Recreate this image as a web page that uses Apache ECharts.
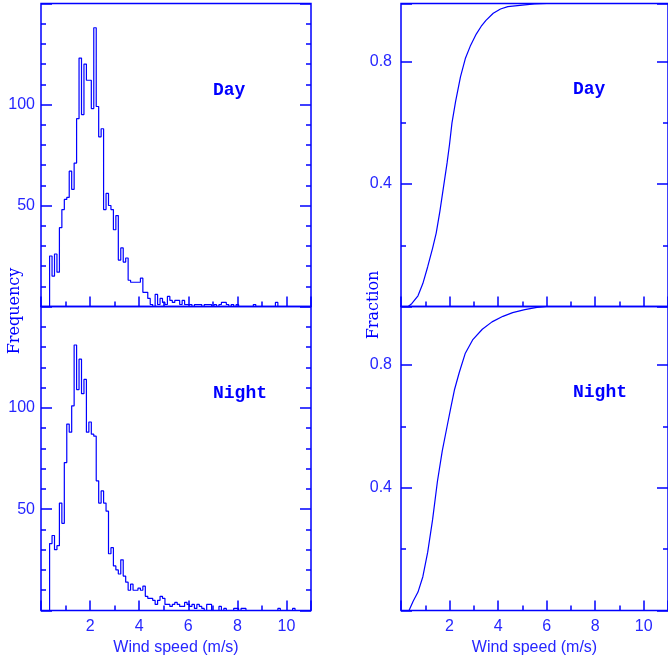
<!DOCTYPE html>
<html>
<head>
<meta charset="UTF-8">
<title>Wind speed distribution</title>
<script src="https://cdn.jsdelivr.net/npm/echarts@6/dist/echarts.min.js"></script>
<style>
  html, body { margin: 0; padding: 0; background: #ffffff; }
  #main { width: 668px; height: 663px; }
</style>
</head>
<body>
<div id="main"></div>
<script>
// histogram bins are 0.1 m/s wide, first one starts at 0.35 m/s
var binStart = 0.35;
var binWidth = 0.1;

var dayCounts = [25, 15, 26, 17, 39, 48, 53, 54, 67, 58, 71, 93, 123, 95, 120, 112, 112, 98, 138, 99,
  84, 88, 48, 56, 50, 48, 38, 45, 23, 29, 22, 24, 13, 12, 12, 12, 12, 14, 7, 7,
  4, 1, 0, 6, 1, 4, 2, 1, 5, 3, 2, 3, 3, 1, 3, 1, 1, 1, 0, 1,
  1, 1, 0, 1, 1, 1, 0, 1, 0, 1, 2, 2, 1, 0, 1, 0, 1, 0, 0, 0,
  0, 0, 0, 1, 0, 0, 0, 0, 0, 0, 0, 0, 2];

var nightCounts = [33, 37, 30, 32, 53, 43, 73, 92, 88, 101, 131, 109, 124, 107, 114, 88, 93, 87, 86, 64,
  53, 59, 53, 49, 28, 31, 22, 20, 18, 25, 17, 14, 10, 13, 10, 10, 11, 10, 12, 7,
  6, 6, 5, 3, 5, 7, 6, 3, 3, 2, 3, 4, 3, 2, 2, 4, 3, 2, 3, 1,
  3, 2, 1, 0, 3, 3, 0, 0, 0, 2, 0, 1, 0, 0, 0, 1, 1, 0, 1, 1,
  0, 0, 0, 0, 0, 0, 0, 0, 0, 0, 0, 0, 0, 1, 0, 0, 0, 0, 0, 1];

// cumulative fraction curves
var dayCdfSpeed = [0.3, 0.45, 0.7, 0.9, 1.1, 1.3, 1.45, 1.6, 1.75, 1.9, 2.0, 2.1, 2.25, 2.45, 2.65,
  2.85, 3.1, 3.3, 3.5, 3.8, 4.1, 4.4, 5.0, 5.5, 6.0, 11];
var dayCdfFrac = [0, 0.01, 0.035, 0.075, 0.13, 0.19, 0.24, 0.31, 0.39, 0.47, 0.53, 0.6, 0.67, 0.75, 0.81,
  0.85, 0.89, 0.915, 0.935, 0.958, 0.972, 0.98, 0.985, 0.989, 0.99, 0.99];

var nightCdfSpeed = [0.33, 0.5, 0.7, 0.9, 1.1, 1.3, 1.5, 1.7, 1.9, 2.05, 2.2, 2.4, 2.65, 2.95, 3.35,
  3.75, 4.2, 4.6, 5.1, 5.6, 6.0, 11];
var nightCdfFrac = [0, 0.03, 0.06, 0.11, 0.19, 0.295, 0.42, 0.52, 0.6, 0.66, 0.718, 0.775, 0.838, 0.881, 0.916,
  0.94, 0.958, 0.97, 0.98, 0.987, 0.99, 0.99];

// tick labels
var speedTicks = [2, 4, 6, 8, 10];
var freqTicks = [50, 100];
var fracTicks = [0.4, 0.8];

var blue = '#0000ff';
var textBlue = '#2626ff';
var sans = '"Liberation Sans", Arial, sans-serif';

function histPoints(counts) {
  var pts = [[binStart, 0]];
  for (var i = 0; i < counts.length; i++) {
    pts.push([binStart + i * binWidth, counts[i]]);
  }
  pts.push([binStart + counts.length * binWidth, 0]);
  return pts;
}

function zipPoints(xs, ys) {
  return xs.map(function (x, i) { return [x, ys[i]]; });
}

var grids = [
  { left: 41, top: 3.5, width: 270, height: 303 },
  { left: 41, top: 306.5, width: 270, height: 304 },
  { left: 401, top: 3.5, width: 270, height: 303 },
  { left: 401, top: 306.5, width: 270, height: 304 }
];
grids.forEach(function (g) {
  g.show = true;
  g.borderColor = blue;
  g.borderWidth = 1.5;
  g.backgroundColor = 'transparent';
});

var xAxes = [];
var yAxes = [];

function tick(len) {
  return { show: true, inside: true, length: len, lineStyle: { color: blue, width: 1.5 } };
}

grids.forEach(function (g, gi) {
  var isBottom = (gi === 1 || gi === 3);
  var isFrac = gi >= 2;
  // x: long ticks every 2, short every 1
  xAxes.push({
    type: 'value', gridIndex: gi, position: 'bottom', min: 0, max: 11, interval: 2,
    axisLine: { show: false }, splitLine: { show: false },
    axisTick: tick(10),
    axisLabel: {
      show: isBottom, customValues: speedTicks,
      margin: 8, fontSize: 16, fontFamily: sans, color: textBlue
    },
    name: isBottom ? 'Wind speed (m/s)' : '',
    nameLocation: 'middle', nameGap: 29,
    nameTextStyle: { fontSize: 16, fontFamily: sans, color: textBlue }
  });
  xAxes.push({
    type: 'value', gridIndex: gi, position: 'bottom', min: 0, max: 11, interval: 1,
    axisLine: { show: false }, splitLine: { show: false },
    axisTick: tick(5), axisLabel: { show: false }
  });

  var ymax = isFrac ? 0.99 : 150;
  var major = isFrac ? 0.4 : 50;
  var minor = isFrac ? 0.2 : 10;
  ['left', 'right'].forEach(function (side) {
    yAxes.push({
      type: 'value', gridIndex: gi, position: side, min: 0, max: ymax, interval: major,
      axisLine: { show: false }, splitLine: { show: false },
      axisTick: tick(11),
      axisLabel: {
        show: side === 'left', customValues: isFrac ? fracTicks : freqTicks,
        margin: isFrac ? 9 : 6, fontSize: 16, fontFamily: sans, color: textBlue
      }
    });
    yAxes.push({
      type: 'value', gridIndex: gi, position: side, min: 0, max: ymax, interval: minor,
      axisLine: { show: false }, splitLine: { show: false },
      axisTick: tick(5), axisLabel: { show: false }
    });
  });
});

function lineSeries(gi, data, step) {
  return {
    type: 'line', xAxisIndex: gi * 2, yAxisIndex: gi * 4,
    data: data, step: step, showSymbol: false, symbol: 'none', silent: true,
    lineStyle: { color: blue, width: 1.2 }, animation: false
  };
}

var panelFont = 'bold 18px "Liberation Mono", "Courier New", monospace';
var axisNameFont = '16px "DejaVu Serif", serif';

function label(text, x, y, font, rot) {
  return {
    type: 'text', x: x, y: y, rotation: rot || 0,
    style: { text: text, font: font, fill: blue, textAlign: rot ? 'center' : 'left', textVerticalAlign: 'middle' }
  };
}

var myChart = echarts.init(document.getElementById('main'), null, { renderer: 'canvas' });
myChart.setOption({
  backgroundColor: '#ffffff',
  animation: false,
  grid: grids,
  xAxis: xAxes,
  yAxis: yAxes,
  series: [
    lineSeries(0, histPoints(dayCounts), 'end'),
    lineSeries(1, histPoints(nightCounts), 'end'),
    lineSeries(2, zipPoints(dayCdfSpeed, dayCdfFrac), false),
    lineSeries(3, zipPoints(nightCdfSpeed, nightCdfFrac), false)
  ],
  graphic: [
    label('Day', 213, 90, panelFont),
    label('Night', 213, 393, panelFont),
    label('Day', 573, 89, panelFont),
    label('Night', 573, 392, panelFont),
    label('Frequency', 15, 311, axisNameFont, Math.PI / 2),
    label('Fraction', 374, 305, axisNameFont, Math.PI / 2)
  ]
});
</script>
</body>
</html>
